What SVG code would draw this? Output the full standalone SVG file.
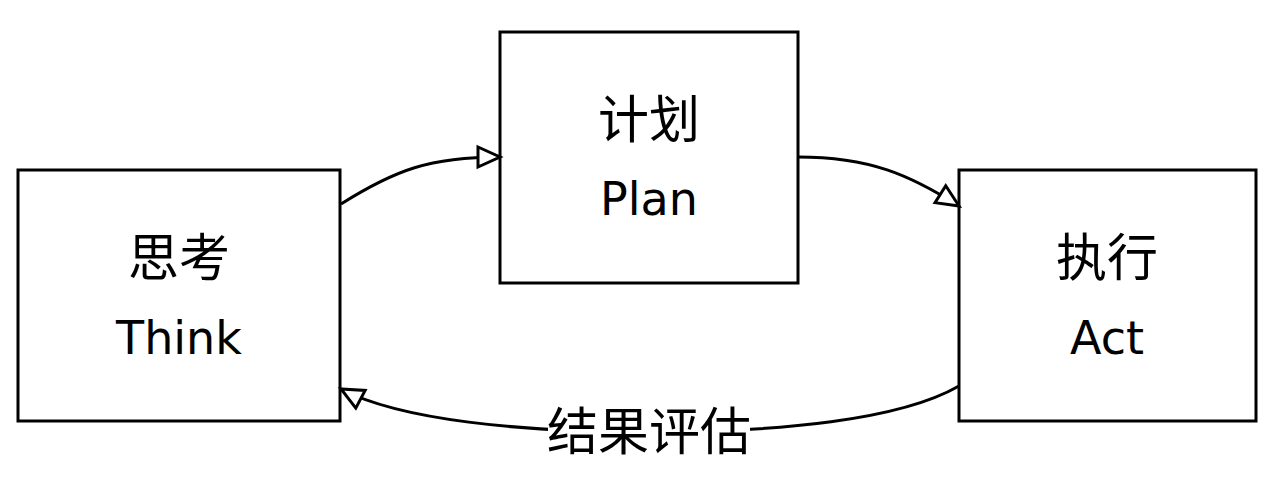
<svg xmlns="http://www.w3.org/2000/svg" width="1280" height="504" viewBox="0 0 1280 504">
<style>
.box{fill:#fff;stroke:#000;stroke-width:3}
.t{font-family:"DejaVu Sans","Noto Sans CJK SC",sans-serif;font-size:46px;fill:#000;text-anchor:middle}
.z{font-size:51px}
.c{fill:none;stroke:#000;stroke-width:3}
</style>
<defs>
<marker id="ah" markerUnits="userSpaceOnUse" markerWidth="30" markerHeight="30" viewBox="-3 -3 30 30" refX="22" refY="10" orient="auto">
<path d="M0,0 L22,10 L0,20 z" fill="#fff" stroke="#000" stroke-width="3"/>
</marker>
</defs>
<rect width="1280" height="504" fill="#fff"/>
<g id="think">
<rect class="box" x="18" y="170" width="322" height="251"/>
<text class="t z" x="179" y="276">思考</text>
<text class="t" x="179" y="354">Think</text>
</g>
<g id="plan">
<rect class="box" x="500" y="32" width="298" height="251"/>
<text class="t z" x="649" y="138">计划</text>
<text class="t" x="649" y="215">Plan</text>
</g>
<g id="act">
<rect class="box" x="959" y="170" width="297" height="251"/>
<text class="t z" x="1107" y="276">执行</text>
<text class="t" x="1107" y="354">Act</text>
</g>
<g id="connectors">
<path class="c" d="M341,204 C395,170 430,157 500,157" marker-end="url(#ah)"/>
<path class="c" d="M798,157 C870,157 910,175 959,206" marker-end="url(#ah)"/>
<path class="c" d="M959,386 C900,420 780,432 649,432 C520,432 400,420 341,389" marker-end="url(#ah)"/>
<rect x="548" y="405" width="202" height="54" fill="#fff"/>
<text class="t z" x="649" y="450">结果评估</text>
</g>
</svg>
